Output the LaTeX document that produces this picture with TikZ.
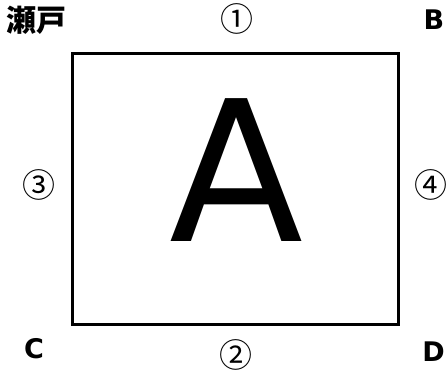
\documentclass[tikz,border=0pt]{standalone}
\usepackage{fontspec}
\setmainfont{Noto Sans CJK JP}
\newfontfamily\latinfont{DejaVu Sans}
\begin{document}
\begin{tikzpicture}[x=1pt,y=-1pt,
  lbl/.style={inner sep=0pt,font=\latinfont\fontsize{27}{30}\selectfont\bfseries},
  circ/.style={inner sep=0pt,font=\fontsize{33}{36}\selectfont}]
\useasboundingbox (0,0) rectangle (447,370);
\node[draw,line width=3pt,minimum width=326pt,minimum height=270.5pt,inner sep=0pt] (box) at (235,188.75) {};
\node[inner sep=0pt,font=\latinfont\fontsize{196}{200}\selectfont] (a) at (236.5,170) {A};
\node[inner sep=0pt,font=\fontsize{30}{34}\selectfont\bfseries] (seto) at (36.5,20) {瀬戸};
\node[lbl] (b) at (434,20) {B};
\node[lbl] (c) at (34,349) {C};
\node[lbl] (d) at (433.5,351.5) {D};
\node[circ] (n1) at (236.5,18.5) {①};
\node[circ] (n2) at (235.5,354.5) {②};
\node[circ] (n3) at (38.5,185) {③};
\node[circ] (n4) at (430.5,185) {④};
\end{tikzpicture}
\end{document}
